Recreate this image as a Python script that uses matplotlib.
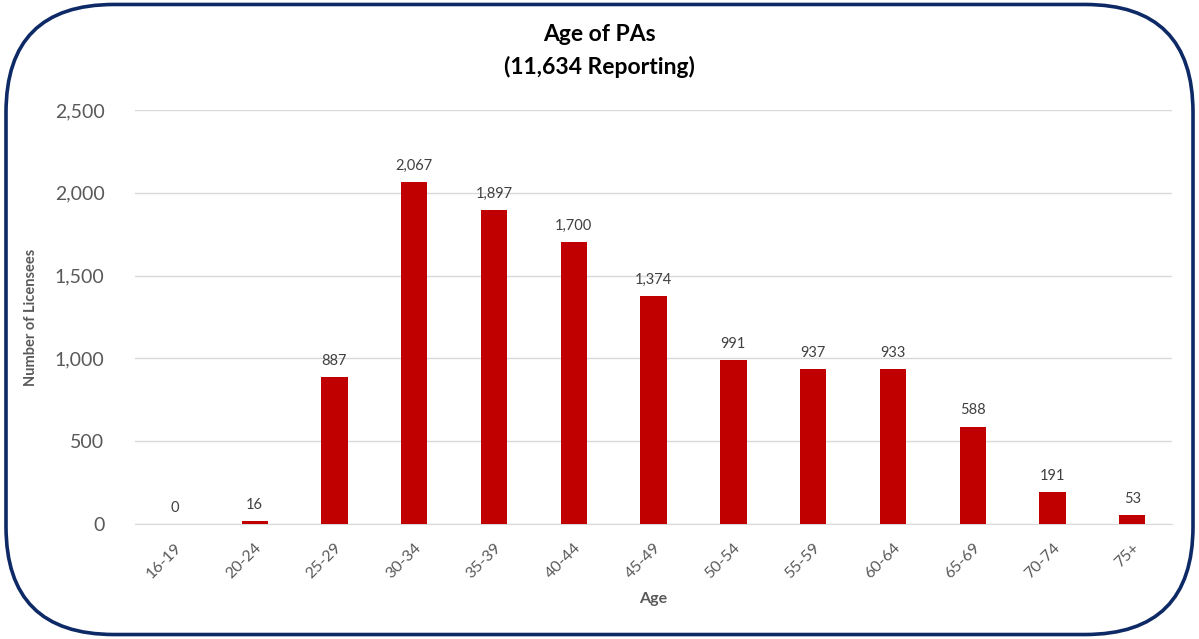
import matplotlib.pyplot as plt
from matplotlib.patches import FancyBboxPatch

plt.rcParams['font.family'] = ['Lato', 'DejaVu Sans']

ages = ['16-19', '20-24', '25-29', '30-34', '35-39', '40-44', '45-49',
        '50-54', '55-59', '60-64', '65-69', '70-74', '75+']
counts = [0, 16, 887, 2067, 1897, 1700, 1374, 991, 937, 933, 588, 191, 53]
yticks = [0, 500, 1000, 1500, 2000, 2500]

bar_color = '#C00000'
text_gray = '#595959'

fig = plt.figure(figsize=(11.99, 6.39), dpi=100)

# rounded frame round the whole chart
frame = FancyBboxPatch((0.005, 0.007), 0.99, 0.986,
                       boxstyle='round,pad=0,rounding_size=0.09',
                       transform=fig.transFigure, fill=False,
                       edgecolor='#0E2A66', linewidth=2.6,
                       mutation_aspect=11.99 / 6.39)
fig.patches.append(frame)

ax = fig.add_axes([0.1126, 0.18, 0.865, 0.648])
x = range(len(ages))
bars = ax.bar(x, counts, width=0.33, color=bar_color, zorder=3)

for xi, v in zip(x, counts):
    ax.text(xi, v + 55, f'{v:,}', ha='center', va='bottom',
            fontsize=10.5, color='#404040')

ax.set_xlim(-0.5, len(ages) - 0.5)
ax.set_ylim(0, 2500)
ax.set_yticks(yticks)
ax.set_yticklabels([f'{t:,}' for t in yticks], fontsize=14, color=text_gray)
ax.set_xticks(list(x))
ax.set_xticklabels(ages, rotation=45, ha='right', rotation_mode='anchor',
                   fontsize=11.5, color=text_gray)
ax.tick_params(length=0)
ax.tick_params(axis='y', pad=22)
ax.tick_params(axis='x', pad=12)

ax.yaxis.grid(True, color='#D9D9D9', linewidth=1, zorder=0)
for s in ['top', 'right', 'left']:
    ax.spines[s].set_visible(False)
ax.spines['bottom'].set_color('#D9D9D9')

ax.set_ylabel('Number of Licensees', fontsize=10.5, fontweight='bold',
              color=text_gray, labelpad=12)
ax.set_xlabel('Age', fontsize=11.5, fontweight='bold', color=text_gray,
              labelpad=8)

fig.text(0.5, 0.92, 'Age of PAs\n(11,634 Reporting)', ha='center', va='center',
         fontsize=16.5, fontweight='bold', color='black', linespacing=1.6)

plt.savefig('out.png', dpi=100)
